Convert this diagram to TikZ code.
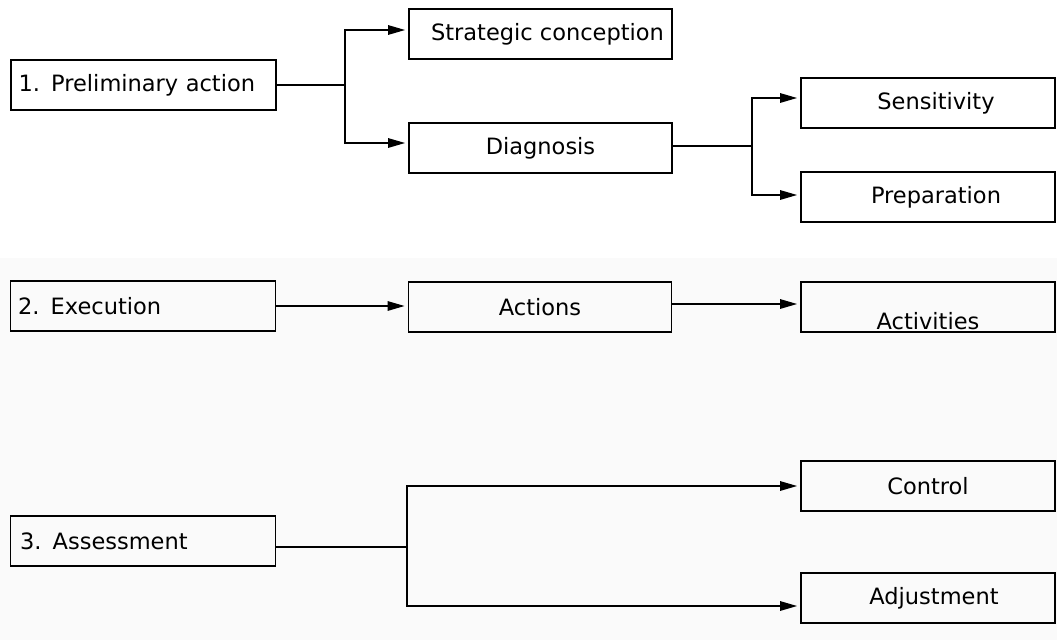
\documentclass[tikz,border=0pt]{standalone}
\usepackage{fontspec}
\setmainfont{DejaVu Sans}
\usetikzlibrary{arrows.meta}
\begin{document}
\begin{tikzpicture}[x=1pt,y=-1pt,
  box/.style={draw=black, line width=1.8pt, rectangle, minimum height=50pt, inner sep=0pt,
    font=\fontsize{22.5}{26}\selectfont},
  lbox/.style={box, minimum width=265pt, text width=250pt, align=left},
  rbox/.style={box, minimum width=254pt, align=center},
  mbox/.style={box, minimum width=263pt, align=center},
  conn/.style={line width=1.4pt},
  arr/.style={conn, -{Triangle[length=17pt,width=9.5pt]}, shorten >=3pt}]
\useasboundingbox (0,0) rectangle (1057,640);
\fill[black!2] (0,258) rectangle (1057,640);
% row 1
\node[lbox] (p1) at (143.5,85) {1. Preliminary action};
\node[mbox] (strat) at (540.5,34) {\hspace*{14pt}Strategic conception};
\node[mbox] (diag) at (540.5,148) {Diagnosis};
\node[rbox] (sens) at (928,103) {\hspace*{16pt}Sensitivity};
\node[rbox] (prep) at (928,197) {\hspace*{16pt}Preparation};
% row 2
\node[lbox] (p2) at (143,306) {2. Execution};
\node[mbox] (act) at (540,307) {Actions};
\node[rbox] (acts) at (928,307) {\raisebox{-22pt}[0pt][0pt]{Activities}};
% row 3
\node[lbox] (p3) at (143,541) {\hspace*{2pt}3. Assessment};
\node[rbox] (ctrl) at (928,486) {Control};
\node[rbox] (adj) at (928,598) {\hspace*{12pt}Adjustment};
% branch points
\coordinate (b1) at (345,85);
\coordinate (b2) at (752,146);
\coordinate (b3) at (407,547);
% connectors
\draw[conn] (p1.east) -- (b1);
\draw[arr] (b1) |- ([yshift=4pt]strat.west);
\draw[arr] (b1) |- ([yshift=5pt]diag.west);
\draw[conn] ([yshift=2pt]diag.east) -- (b2);
\draw[arr] (b2) |- ([yshift=5pt]sens.west);
\draw[arr] (b2) |- ([yshift=2pt]prep.west);
\draw[arr] (p2.east) -- (act.west |- p2.east);
\draw[arr] ([yshift=3pt]act.east) -- ([yshift=3pt]acts.west);
\draw[conn] ([yshift=-6pt]p3.east) -- (b3);
\draw[arr] (b3) |- (ctrl.west);
\draw[arr] (b3) |- ([yshift=-8pt]adj.west);
\end{tikzpicture}
\end{document}
